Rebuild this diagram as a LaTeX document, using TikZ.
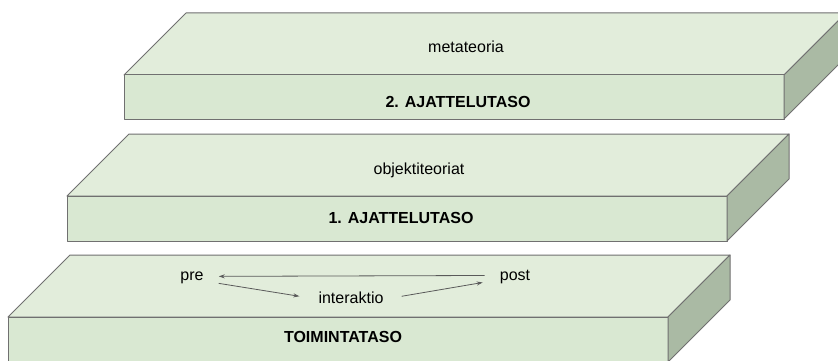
\documentclass[tikz,border=0pt]{standalone}
\usepackage{fontspec}
\setmainfont{Liberation Sans}
\usetikzlibrary{arrows.meta}
\definecolor{topc}{HTML}{E2EDDB}
\definecolor{frontc}{HTML}{D9E8D2}
\definecolor{sidec}{HTML}{AABAA4}
\definecolor{edgec}{HTML}{707070}
\definecolor{arrc}{HTML}{5A5A5A}
\tikzset{
  face/.style={draw=edgec, line width=1pt, line join=round},
  lbl/.style={inner sep=0pt, anchor=base, text=black, font=\fontsize{16}{19}\selectfont},
  blbl/.style={inner sep=0pt, anchor=base, text=black, font=\fontsize{16}{19}\selectfont\bfseries},
  arr/.style={draw=arrc, line width=0.8pt, -{Stealth[length=6pt,width=4pt]}},
}
\newcommand\myslab[3]{% x0, ytop of front face, height
  \filldraw[face, fill=topc] (#1,#2) -- ++(62,-62) -- ++(660,0) -- ++(-62,62) -- cycle;
  \filldraw[face, fill=frontc] (#1,#2) rectangle ++(660,#3);
  \filldraw[face, fill=sidec] ({#1+660},#2) -- ++(62,-62) -- ++(0,#3) -- ++(-62,62) -- cycle;
}
\begin{document}
\begin{tikzpicture}[x=1pt, y=-1pt]
  \useasboundingbox (0,0) rectangle (838,361);
  \clip (0,0) rectangle (838,361);
  \fill[white] (0,0) rectangle (838,361);
  % top slab
  \myslab{124}{75}{44}
  \node[lbl] (meta) at (466,53) {metateoria};
  \node[blbl] (aj2) at (458,107) {2. AJATTELUTASO};
  % middle slab
  \myslab{67}{196}{45}
  \node[lbl] (obj) at (419,174) {objektiteoriat};
  \node[blbl] (aj1) at (401,223) {1. AJATTELUTASO};
  % bottom slab
  \myslab{8}{317}{45}
  \node[blbl] (toim) at (343,342) {TOIMINTATASO};
  \node[lbl] (pre) at (192,280) {pre};
  \node[lbl] (post) at (515,280) {post};
  \node[lbl] (inter) at (351,303) {interaktio};
  \draw[arr] ([xshift=-15pt,yshift=1pt]post.west) -- ([xshift=15pt,yshift=1pt]pre.east);
  \draw[arr] ([xshift=15pt,yshift=-6pt]pre.east) -- ([xshift=-19pt,yshift=1pt]inter.west);
  \draw[arr] ([xshift=18pt,yshift=1pt]inter.east) -- ([xshift=-17pt,yshift=-6pt]post.west);
\end{tikzpicture}
\end{document}
